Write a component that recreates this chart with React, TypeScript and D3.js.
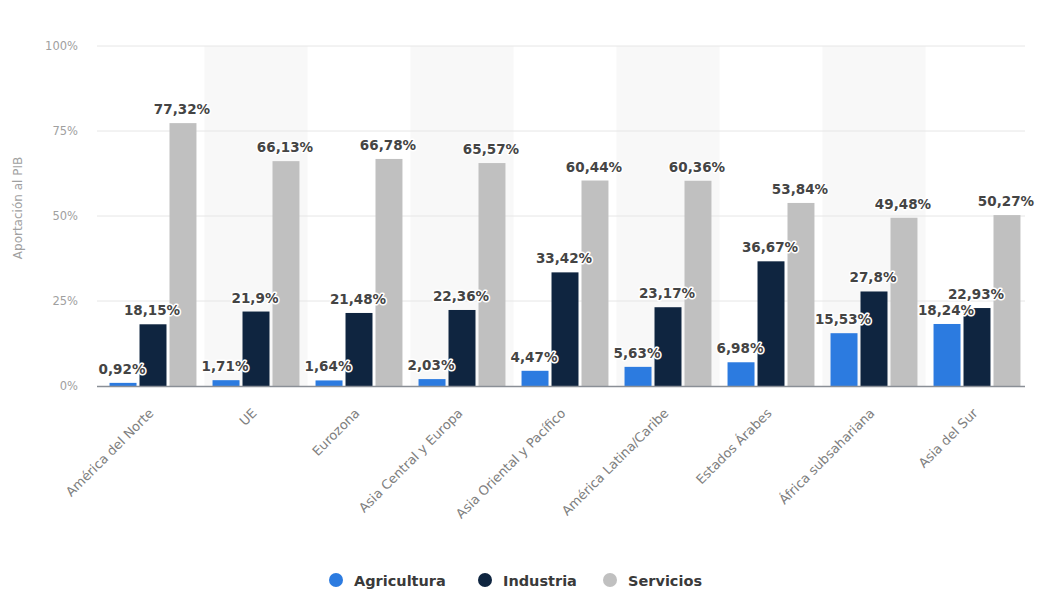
import React from "react";
import * as d3 from "d3";

const categories = [
  "América del Norte",
  "UE",
  "Eurozona",
  "Asia Central y Europa",
  "Asia Oriental y Pacífico",
  "América Latina/Caribe",
  "Estados Árabes",
  "África subsahariana",
  "Asia del Sur",
];
const agricultura = [0.92, 1.71, 1.64, 2.03, 4.47, 5.63, 6.98, 15.53, 18.24];
const industria = [18.15, 21.9, 21.48, 22.36, 33.42, 23.17, 36.67, 27.8, 22.93];
const servicios = [77.32, 66.13, 66.78, 65.57, 60.44, 60.36, 53.84, 49.48, 50.27];
const seriesNames = ["Agricultura", "Industria", "Servicios"];
const seriesColors = ["#2c7be0", "#0f2540", "#c0c0c0"];
const yTicks = [0, 25, 50, 75, 100];

const W = 1038;
const H = 592;
const M = { left: 101.5, right: 1028.5, top: 46, bottom: 386, gridL: 97, gridR: 1025 };

const fmt = (v: number) => String(v).replace(".", ",") + "%";

export default function App() {
  const x = d3.scaleBand<string>().domain(categories).range([M.left, M.right]);
  const y = d3.scaleLinear().domain([0, 100]).range([M.bottom, M.top]);
  const bw = x.bandwidth();
  const inner = d3
    .scaleBand<string>()
    .domain(seriesNames)
    .range([bw * 0.078, bw * 0.922])
    .paddingInner(0.1);
  const data = [agricultura, industria, servicios];
  const font = "'DejaVu Sans', 'Open Sans', sans-serif";

  return (
    <svg width={W} height={H} style={{ position: "absolute", left: 0, top: 0, background: "#fff" }} fontFamily={font}>
      {categories.map((c, i) =>
        i % 2 === 1 ? (
          <rect key={"band" + i} x={x(c)} y={M.top} width={bw} height={M.bottom - M.top} fill="#f8f8f8" />
        ) : null
      )}
      {yTicks.map((t) => (
        <g key={"yt" + t}>
          {t > 0 && <line x1={M.gridL} x2={M.gridR} y1={y(t)} y2={y(t)} stroke="#e6e6e6" strokeWidth={1} />}
          <text x={78} y={y(t) + 4} textAnchor="end" fontSize={11.5} fill="#a0a0a0">
            {t + "%"}
          </text>
        </g>
      ))}
      <text
        transform={`translate(22, 208) rotate(-90)`}
        textAnchor="middle"
        fontSize={12}
        fill="#a0a0a0"
      >
        Aportación al PIB
      </text>
      {categories.map((c, i) =>
        data.map((arr, s) => {
          const bx = (x(c) as number) + (inner(seriesNames[s]) as number);
          return (
            <rect
              key={c + s}
              x={bx}
              y={y(arr[i])}
              width={inner.bandwidth()}
              height={y(0) - y(arr[i])}
              fill={seriesColors[s]}
            />
          );
        })
      )}
      <line x1={M.gridL} x2={M.gridR} y1={M.bottom + 0.5} y2={M.bottom + 0.5} stroke="#8a8f96" strokeWidth={1.5} />
      {categories.map((c, i) =>
        data.map((arr, s) => {
          const cx = (x(c) as number) + (inner(seriesNames[s]) as number) + inner.bandwidth() / 2;
          return (
            <text
              key={"l" + c + s}
              x={cx - 1}
              y={y(arr[i]) - 9}
              textAnchor="middle"
              fontSize={13.5}
              fontWeight="bold"
              fill="#444"
              stroke="#fff"
              strokeWidth={3}
              paintOrder="stroke"
              strokeLinejoin="round"
            >
              {fmt(arr[i])}
            </text>
          );
        })
      )}
      {categories.map((c) => {
        const cx = (x(c) as number) + bw / 2;
        return (
          <text
            key={"xl" + c}
            transform={`translate(${cx + 1.5}, ${M.bottom + 28}) rotate(-45)`}
            textAnchor="end"
            fontSize={13}
            fill="#808080"
          >
            {c}
          </text>
        );
      })}
      {seriesNames.map((n, s) => {
        const lx = [336, 485, 610][s];
        return (
          <g key={"lg" + n}>
            <circle cx={lx} cy={580} r={7} fill={seriesColors[s]} />
            <text x={lx + 18} y={585.5} fontSize={14.5} fontWeight="bold" fill="#3a3a3a">
              {n}
            </text>
          </g>
        );
      })}
    </svg>
  );
}
